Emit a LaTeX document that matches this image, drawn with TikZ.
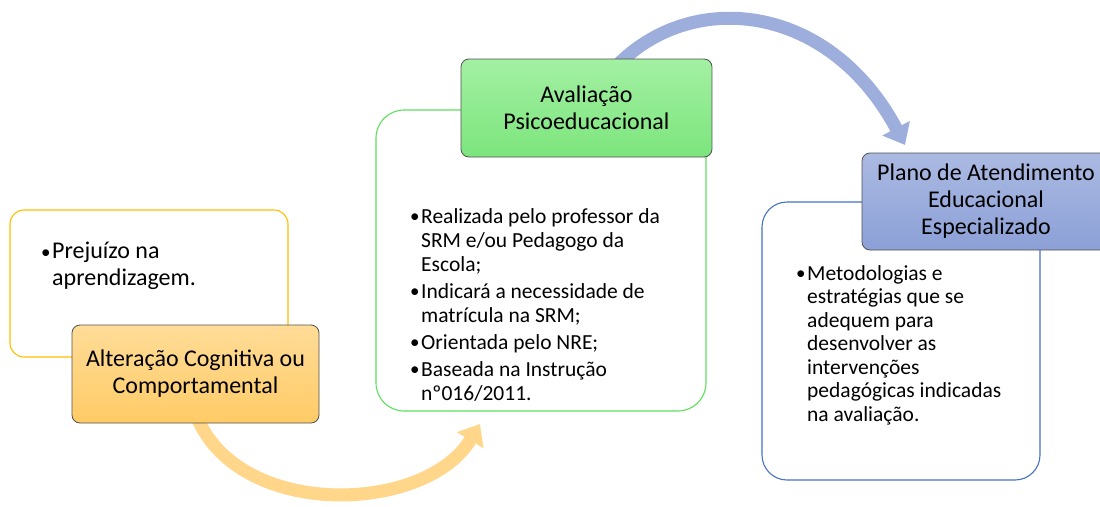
\documentclass[tikz,border=0pt]{standalone}
\usepackage{fontspec}
\setmainfont{Carlito}
\usetikzlibrary{arrows.meta,backgrounds}
\definecolor{yelline}{HTML}{FFC000}
\definecolor{grnline}{HTML}{5EE05E}
\definecolor{bluline}{HTML}{4472C4}
\definecolor{orgtop}{HTML}{FFDC98}
\definecolor{orgbot}{HTML}{FFCB66}
\definecolor{grntop}{HTML}{A3F0A3}
\definecolor{grnbot}{HTML}{7CE57C}
\definecolor{blutop}{HTML}{ABBAE2}
\definecolor{blubot}{HTML}{8CA0D7}
\definecolor{yarr}{HTML}{FFD68A}
\definecolor{barr}{HTML}{9DAEDC}
\definecolor{hdrline}{HTML}{505050}
\newcommand{\bl}{\makebox[11pt][l]{\raisebox{0.6pt}{\fontsize{19}{19}\selectfont•}}}
\newcommand{\ind}{\hspace*{11pt}}
\begin{document}
\begin{tikzpicture}[x=1pt,y=-1pt,
  outbox/.style={draw, fill=white, line width=1.1pt, inner sep=0pt},
  hdrbox/.style={draw=hdrline, line width=0.8pt, rounded corners=8pt, inner sep=0pt,
     align=center, font=\fontsize{24}{27}\selectfont},
  bodytxt/.style={inner sep=0pt, align=left, anchor=north west, font=\fontsize{21.5}{24}\selectfont},
  bigarrow/.style={line width=13pt, -{Triangle[length=19pt,width=30pt]}}]
\useasboundingbox (0,0) rectangle (1100,506);
% outline boxes
\node[outbox, draw=yelline, minimum width=278pt, minimum height=147pt, rounded corners=14pt] (boxA) at (149,283.5) {};
\node[outbox, draw=grnline, minimum width=330pt, minimum height=301pt, rounded corners=28pt] (boxB) at (541,260.5) {};
\node[outbox, draw=bluline, minimum width=278pt, minimum height=278pt, rounded corners=25pt] (boxC) at (901,341) {};
% body texts
\node[bodytxt, font=\fontsize{24}{27}\selectfont] (txtA) at (41,242) {\bl Prejuízo na\\\ind aprendizagem.};
\node[bodytxt] (txtB) at (410,208) {\bl Realizada pelo professor da\\\ind SRM e/ou Pedagogo da\\\ind Escola;\\[3pt]
\bl Indicará a necessidade de\\\ind matrícula na SRM;\\[3pt]
\bl Orientada pelo NRE;\\[3pt]
\bl Baseada na Instrução\\\ind nº016/2011.};
\node[bodytxt, font=\fontsize{21.5}{23.5}\selectfont] (txtC) at (796,265) {\bl Metodologias e\\\ind estratégias que se\\\ind adequem para\\\ind desenvolver as\\\ind intervenções\\\ind pedagógicas indicadas\\\ind na avaliação.};
% headers
\node[hdrbox, top color=orgtop, bottom color=orgbot, minimum width=247pt, minimum height=98pt] (hdrA) at (195.5,374) {Alteração Cognitiva ou\\Comportamental};
\node[hdrbox, top color=grntop, bottom color=grnbot, minimum width=251pt, minimum height=98pt] (hdrB) at (586.5,108) {Avaliação\\Psicoeducacional};
\node[hdrbox, top color=blutop, bottom color=blubot, minimum width=248pt, minimum height=97pt] (hdrC) at (986,201.5) {Plano de Atendimento\\Educacional\\Especializado};
% arrow end points
\coordinate (yend) at (480,424);
\coordinate (bend) at (905,145);
\begin{scope}[on background layer]
\draw[bigarrow, draw=yarr] ([yshift=10pt]hdrA.south) .. controls (235,520) and (425,515) .. (yend);
\draw[bigarrow, draw=barr] (hdrB.center) .. controls (650,-15) and (820,-15) .. (bend);
\end{scope}
\end{tikzpicture}
\end{document}
